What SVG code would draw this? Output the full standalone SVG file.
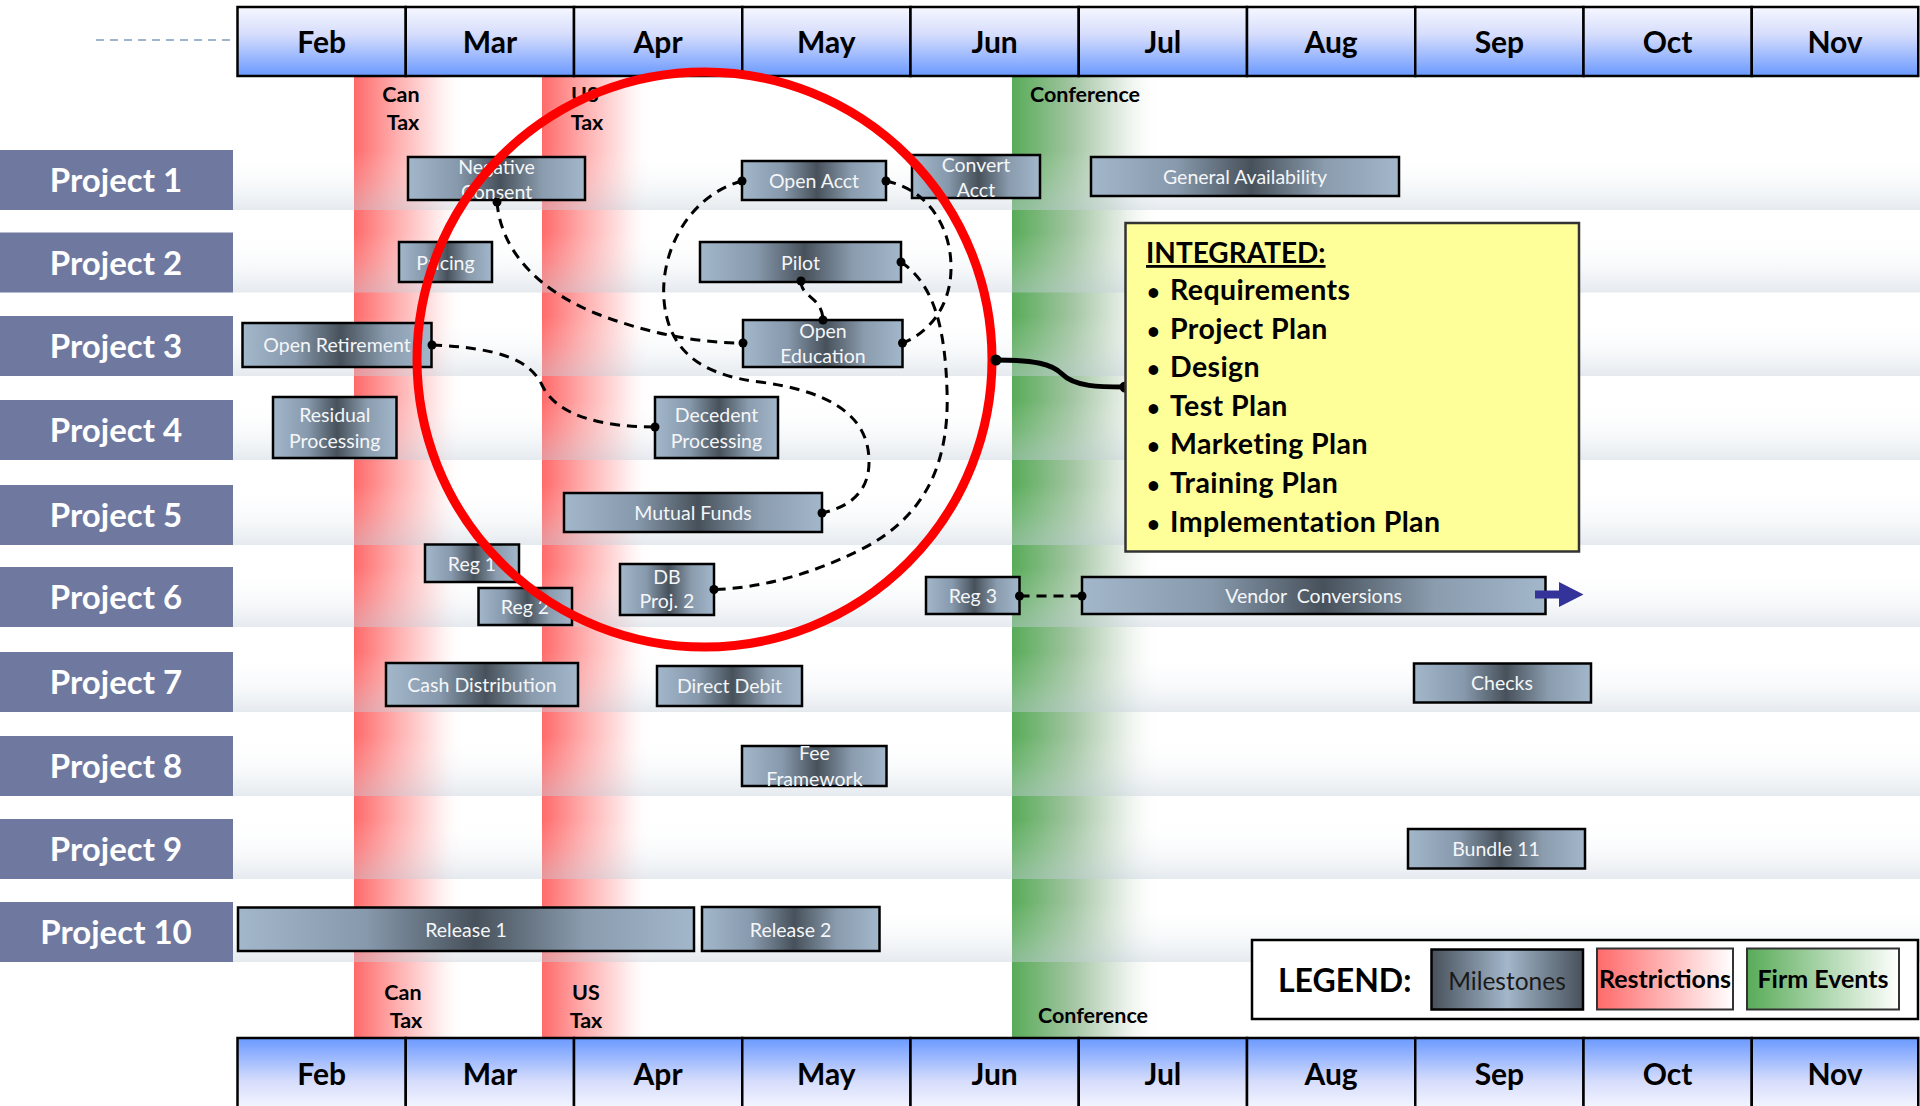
<svg xmlns="http://www.w3.org/2000/svg" width="1920" height="1106" viewBox="0 0 1920 1106">
  <style>
    text { font-family: Lato, "Liberation Sans", sans-serif; }
    .mon { font-size: 30px; font-weight: bold; fill: #000; text-anchor: middle; }
    .cell { stroke: #000; stroke-width: 2.5; }
    .plab { fill: #6f79a0; }
    .ptxt { font-size: 33px; font-weight: bold; fill: #fff; text-anchor: middle; }
    .row { fill: url(#rowG); }
    .ms { fill: url(#msG); stroke: #000; stroke-width: 2.5; }
    .mst { font-size: 19.5px; fill: #f4f6f8; text-anchor: middle; }
    .band { font-size: 21.5px; font-weight: bold; fill: #000; text-anchor: middle; }
    .dash { fill: none; stroke: #000; stroke-width: 3; stroke-dasharray: 10 7; }
    .dot { fill: #000; }
    .bul { font-size: 28.5px; font-weight: bold; fill: #000; letter-spacing: 0.4px; }
    .bdot { font-size: 22px; font-weight: bold; fill: #000; }
  </style>
  <defs>
    <linearGradient id="hdrTop" x1="0" y1="0" x2="0" y2="1">
      <stop offset="0" stop-color="#f6f7ff"/>
      <stop offset="0.4" stop-color="#d6ddfc"/>
      <stop offset="1" stop-color="#6a99ff"/>
    </linearGradient>
    <linearGradient id="hdrBot" x1="0" y1="0" x2="0" y2="1">
      <stop offset="0" stop-color="#6a99ff"/>
      <stop offset="0.6" stop-color="#d6ddfc"/>
      <stop offset="1" stop-color="#f6f7ff"/>
    </linearGradient>
    <linearGradient id="rowG" x1="0" y1="0" x2="0" y2="1">
      <stop offset="0" stop-color="#ffffff" stop-opacity="0"/>
      <stop offset="0.5" stop-color="#dfe6ec" stop-opacity="0.18"/>
      <stop offset="1" stop-color="#c5d0db" stop-opacity="0.45"/>
    </linearGradient>
    <linearGradient id="redG" x1="0" y1="0" x2="1" y2="0">
      <stop offset="0" stop-color="#ff6a6a"/>
      <stop offset="0.35" stop-color="#ffa8a8"/>
      <stop offset="0.75" stop-color="#ffe8e8"/>
      <stop offset="1" stop-color="#ffffff" stop-opacity="0"/>
    </linearGradient>
    <linearGradient id="greenG" x1="0" y1="0" x2="1" y2="0">
      <stop offset="0" stop-color="#58ab58"/>
      <stop offset="0.4" stop-color="#a2c5a2"/>
      <stop offset="0.75" stop-color="#e8efe8"/>
      <stop offset="1" stop-color="#ffffff" stop-opacity="0"/>
    </linearGradient>
    <linearGradient id="msG" x1="0" y1="0" x2="1" y2="0">
      <stop offset="0" stop-color="#a3b7cb"/>
      <stop offset="0.28" stop-color="#8799ac"/>
      <stop offset="0.52" stop-color="#47515b"/>
      <stop offset="0.76" stop-color="#8a9cae"/>
      <stop offset="1" stop-color="#a3b7cb"/>
    </linearGradient>
    <linearGradient id="msLeg" x1="0" y1="0" x2="1" y2="0">
      <stop offset="0" stop-color="#47515b"/>
      <stop offset="0.5" stop-color="#a3b7cb"/>
      <stop offset="1" stop-color="#47515b"/>
    </linearGradient>
    <linearGradient id="redLeg" x1="0" y1="0" x2="1" y2="0">
      <stop offset="0" stop-color="#ff6a6a"/>
      <stop offset="1" stop-color="#ffffff"/>
    </linearGradient>
    <linearGradient id="greenLeg" x1="0" y1="0" x2="1" y2="0">
      <stop offset="0" stop-color="#58ab58"/>
      <stop offset="1" stop-color="#ffffff"/>
    </linearGradient>
  </defs>

  <rect width="1920" height="1106" fill="#fff"/>

  <!-- restriction and event bands -->
  <g id="bands">
    <rect x="354" y="76" width="110" height="962" fill="url(#redG)"/>
    <rect x="542" y="76" width="110" height="962" fill="url(#redG)"/>
    <rect x="1012" y="76" width="150" height="962" fill="url(#greenG)"/>
  </g>

  <!-- row stripes -->
  <g id="rows">
    <rect class="row" x="233" y="150" width="1687" height="60"/>
    <rect class="row" x="233" y="232.5" width="1687" height="60"/>
    <rect class="row" x="233" y="316" width="1687" height="60"/>
    <rect class="row" x="233" y="400" width="1687" height="60"/>
    <rect class="row" x="233" y="485" width="1687" height="60"/>
    <rect class="row" x="233" y="567" width="1687" height="60"/>
    <rect class="row" x="233" y="652" width="1687" height="60"/>
    <rect class="row" x="233" y="736" width="1687" height="60"/>
    <rect class="row" x="233" y="819" width="1687" height="60"/>
    <rect class="row" x="233" y="902" width="1687" height="60"/>
  </g>

  <!-- band labels -->
  <g id="band-labels">
    <text class="band" x="401" y="102">Can</text>
    <text class="band" x="403" y="130">Tax</text>
    <text class="band" x="585" y="102">US</text>
    <text class="band" x="587" y="130">Tax</text>
    <text class="band" x="1085" y="102">Conference</text>
    <text class="band" x="403" y="1000">Can</text>
    <text class="band" x="406" y="1028">Tax</text>
    <text class="band" x="586" y="1000">US</text>
    <text class="band" x="586" y="1028">Tax</text>
    <text class="band" x="1093" y="1023">Conference</text>
  </g>

  <line x1="96" y1="40" x2="236" y2="40" stroke="#9fb5cb" stroke-width="2" stroke-dasharray="8 6"/>

  <!-- month header (top) -->
  <g id="header-top">
    <rect class="cell" x="237.5" y="7" width="168.25" height="69" fill="url(#hdrTop)"/>
    <rect class="cell" x="405.75" y="7" width="168.25" height="69" fill="url(#hdrTop)"/>
    <rect class="cell" x="574" y="7" width="168.25" height="69" fill="url(#hdrTop)"/>
    <rect class="cell" x="742.25" y="7" width="168.25" height="69" fill="url(#hdrTop)"/>
    <rect class="cell" x="910.5" y="7" width="168.25" height="69" fill="url(#hdrTop)"/>
    <rect class="cell" x="1078.75" y="7" width="168.25" height="69" fill="url(#hdrTop)"/>
    <rect class="cell" x="1247" y="7" width="168.25" height="69" fill="url(#hdrTop)"/>
    <rect class="cell" x="1415.25" y="7" width="168.25" height="69" fill="url(#hdrTop)"/>
    <rect class="cell" x="1583.5" y="7" width="168.25" height="69" fill="url(#hdrTop)"/>
    <rect class="cell" x="1751.75" y="7" width="166.5" height="69" fill="url(#hdrTop)"/>
    <text class="mon" x="321.6" y="53">Feb</text>
    <text class="mon" x="489.9" y="53">Mar</text>
    <text class="mon" x="658.1" y="53">Apr</text>
    <text class="mon" x="826.4" y="53">May</text>
    <text class="mon" x="994.6" y="53">Jun</text>
    <text class="mon" x="1162.9" y="53">Jul</text>
    <text class="mon" x="1331.1" y="53">Aug</text>
    <text class="mon" x="1499.4" y="53">Sep</text>
    <text class="mon" x="1667.6" y="53">Oct</text>
    <text class="mon" x="1835" y="53">Nov</text>
  </g>

  <!-- month header (bottom) -->
  <g id="header-bottom">
    <rect class="cell" x="237.5" y="1038" width="168.25" height="72" fill="url(#hdrBot)"/>
    <rect class="cell" x="405.75" y="1038" width="168.25" height="72" fill="url(#hdrBot)"/>
    <rect class="cell" x="574" y="1038" width="168.25" height="72" fill="url(#hdrBot)"/>
    <rect class="cell" x="742.25" y="1038" width="168.25" height="72" fill="url(#hdrBot)"/>
    <rect class="cell" x="910.5" y="1038" width="168.25" height="72" fill="url(#hdrBot)"/>
    <rect class="cell" x="1078.75" y="1038" width="168.25" height="72" fill="url(#hdrBot)"/>
    <rect class="cell" x="1247" y="1038" width="168.25" height="72" fill="url(#hdrBot)"/>
    <rect class="cell" x="1415.25" y="1038" width="168.25" height="72" fill="url(#hdrBot)"/>
    <rect class="cell" x="1583.5" y="1038" width="168.25" height="72" fill="url(#hdrBot)"/>
    <rect class="cell" x="1751.75" y="1038" width="166.5" height="72" fill="url(#hdrBot)"/>
    <text class="mon" x="321.6" y="1085">Feb</text>
    <text class="mon" x="489.9" y="1085">Mar</text>
    <text class="mon" x="658.1" y="1085">Apr</text>
    <text class="mon" x="826.4" y="1085">May</text>
    <text class="mon" x="994.6" y="1085">Jun</text>
    <text class="mon" x="1162.9" y="1085">Jul</text>
    <text class="mon" x="1331.1" y="1085">Aug</text>
    <text class="mon" x="1499.4" y="1085">Sep</text>
    <text class="mon" x="1667.6" y="1085">Oct</text>
    <text class="mon" x="1835" y="1085">Nov</text>
  </g>

  <!-- project labels -->
  <g id="project-labels">
    <g id="p1"><rect class="plab" x="0" y="150" width="233" height="60"/><text class="ptxt" x="116" y="192">Project 1</text></g>
    <g id="p2"><rect class="plab" x="0" y="232.5" width="233" height="60"/><text class="ptxt" x="116" y="274.5">Project 2</text></g>
    <g id="p3"><rect class="plab" x="0" y="316" width="233" height="60"/><text class="ptxt" x="116" y="358">Project 3</text></g>
    <g id="p4"><rect class="plab" x="0" y="400" width="233" height="60"/><text class="ptxt" x="116" y="442">Project 4</text></g>
    <g id="p5"><rect class="plab" x="0" y="485" width="233" height="60"/><text class="ptxt" x="116" y="527">Project 5</text></g>
    <g id="p6"><rect class="plab" x="0" y="567" width="233" height="60"/><text class="ptxt" x="116" y="609">Project 6</text></g>
    <g id="p7"><rect class="plab" x="0" y="652" width="233" height="60"/><text class="ptxt" x="116" y="694">Project 7</text></g>
    <g id="p8"><rect class="plab" x="0" y="736" width="233" height="60"/><text class="ptxt" x="116" y="778">Project 8</text></g>
    <g id="p9"><rect class="plab" x="0" y="819" width="233" height="60"/><text class="ptxt" x="116" y="861">Project 9</text></g>
    <g id="p10"><rect class="plab" x="0" y="902" width="233" height="60"/><text class="ptxt" x="116" y="944">Project 10</text></g>
  </g>

  <!-- milestones -->
  <g id="negative-consent"><rect class="ms" x="408" y="157" width="177" height="43"/><text class="mst" x="496.5" y="173.5">Negative</text><text class="mst" x="496.5" y="198.5">Consent</text></g>
  <g id="open-acct"><rect class="ms" x="742" y="161" width="144" height="39"/><text class="mst" x="814" y="188">Open Acct</text></g>
  <g id="convert-acct"><rect class="ms" x="912" y="155" width="128" height="43"/><text class="mst" x="976" y="171.5">Convert</text><text class="mst" x="976" y="196.5">Acct</text></g>
  <g id="general-availability"><rect class="ms" x="1091" y="157" width="308" height="39"/><text class="mst" x="1245" y="184">General Availability</text></g>
  <g id="pricing"><rect class="ms" x="399" y="242" width="93" height="40"/><text class="mst" x="445.5" y="269.5">Pricing</text></g>
  <g id="pilot"><rect class="ms" x="700" y="242" width="201" height="40"/><text class="mst" x="800.5" y="269.5">Pilot</text></g>
  <g id="open-retirement"><rect class="ms" x="242.5" y="323" width="189" height="44"/><text class="mst" x="337" y="352">Open Retirement</text></g>
  <g id="open-education"><rect class="ms" x="743" y="320" width="159.5" height="47"/><text class="mst" x="823" y="338">Open</text><text class="mst" x="823" y="363">Education</text></g>
  <g id="residual-processing"><rect class="ms" x="273" y="397" width="123.5" height="61"/><text class="mst" x="334.7" y="422">Residual</text><text class="mst" x="334.7" y="448">Processing</text></g>
  <g id="decedent-processing"><rect class="ms" x="655" y="397" width="123" height="61"/><text class="mst" x="716.5" y="421.5">Decedent</text><text class="mst" x="716.5" y="448">Processing</text></g>
  <g id="mutual-funds"><rect class="ms" x="564" y="493" width="258" height="39"/><text class="mst" x="693" y="520">Mutual Funds</text></g>
  <g id="reg-1"><rect class="ms" x="425" y="544.5" width="94" height="37.5"/><text class="mst" x="472" y="571">Reg 1</text></g>
  <g id="reg-2"><rect class="ms" x="478.5" y="588" width="93.5" height="37"/><text class="mst" x="525" y="614">Reg 2</text></g>
  <g id="db-proj-2"><rect class="ms" x="620" y="564" width="94" height="51"/><text class="mst" x="667" y="584">DB</text><text class="mst" x="667" y="608">Proj. 2</text></g>
  <g id="reg-3"><rect class="ms" x="926" y="577" width="93.5" height="37"/><text class="mst" x="972.8" y="603">Reg 3</text></g>
  <g id="vendor-conversions"><rect class="ms" x="1082" y="577" width="463.5" height="37"/><text class="mst" x="1313.6" y="603" xml:space="preserve">Vendor  Conversions</text>
    <path d="M1535,590.5 H1559 V582 L1583.5,594.5 L1559,607 V598.5 H1535 Z" fill="#333399"/></g>
  <g id="cash-distribution"><rect class="ms" x="386" y="663" width="192" height="43"/><text class="mst" x="482" y="692">Cash Distribution</text></g>
  <g id="direct-debit"><rect class="ms" x="657" y="666" width="145" height="40"/><text class="mst" x="729.5" y="693">Direct Debit</text></g>
  <g id="checks"><rect class="ms" x="1414" y="663.5" width="177" height="39"/><text class="mst" x="1502" y="690">Checks</text></g>
  <g id="fee-framework"><rect class="ms" x="742" y="746" width="144.5" height="40"/><text class="mst" x="814.4" y="760">Fee</text><text class="mst" x="814.4" y="786">Framework</text></g>
  <g id="bundle-11"><rect class="ms" x="1408" y="829" width="177" height="39.5"/><text class="mst" x="1496" y="856">Bundle 11</text></g>
  <g id="release-1"><rect class="ms" x="238" y="907.5" width="456" height="43.5"/><text class="mst" x="466" y="937">Release 1</text></g>
  <g id="release-2"><rect class="ms" x="702" y="907" width="177.5" height="44"/><text class="mst" x="790.6" y="937">Release 2</text></g>

  <!-- dependency connectors -->
  <g id="connectors">
    <path class="dash" d="M497,202 C501,252 540,292 600,315 C650,334 700,343 743,343"/>
    <path class="dash" d="M432,345 C500,348 530,360 542,385 C556,415 600,427 655,427"/>
    <path class="dash" d="M742,181 C690,195 660,250 664,300 C668,350 700,375 760,382 C820,390 868,410 869,460 C870,495 845,508 822,513"/>
    <path class="dash" d="M886,181 C930,190 952,230 951,270 C950,310 925,335 902.5,343"/>
    <path class="dash" d="M901,262 C935,285 945,330 947,390 C950,470 920,520 860,550 C810,575 760,588 714,589.5"/>
    <path class="dash" d="M801,281 C801,298 822,296 823,320"/>
    <path class="dash" d="M1019.5,596 H1082"/>
    <circle class="dot" cx="497" cy="202" r="4.5"/>
    <circle class="dot" cx="743" cy="343" r="4.5"/>
    <circle class="dot" cx="432" cy="345" r="4.5"/>
    <circle class="dot" cx="655" cy="427" r="4.5"/>
    <circle class="dot" cx="742" cy="181" r="4.5"/>
    <circle class="dot" cx="822" cy="513" r="4.5"/>
    <circle class="dot" cx="886" cy="181" r="4.5"/>
    <circle class="dot" cx="902.5" cy="343" r="4.5"/>
    <circle class="dot" cx="901" cy="262" r="4.5"/>
    <circle class="dot" cx="714" cy="589.5" r="4.5"/>
    <circle class="dot" cx="801" cy="281" r="4.5"/>
    <circle class="dot" cx="823" cy="320" r="4.5"/>
    <circle class="dot" cx="1019.5" cy="596" r="4.5"/>
    <circle class="dot" cx="1082" cy="596" r="4.5"/>
  </g>

  <!-- integration ring -->
  <circle id="ring" cx="704.5" cy="359.5" r="287.5" fill="none" stroke="#ff0000" stroke-width="9"/>

  <!-- callout -->
  <g id="callout-link">
    <path d="M996,360 C1035,360 1052,364 1062,374 C1075,387 1100,387 1125,387" fill="none" stroke="#000" stroke-width="5"/>
    <circle class="dot" cx="996" cy="360" r="5.5"/>
    <circle class="dot" cx="1125" cy="387" r="5.5"/>
  </g>
  <g id="integrated">
    <rect x="1125.5" y="223" width="453.5" height="328.5" fill="#ffff99" stroke="#333" stroke-width="2.5"/>
    <text x="1146" y="263" font-size="28" font-weight="bold" text-decoration="underline" fill="#000">INTEGRATED:</text>
    <text y="300"><tspan class="bdot" x="1147">•</tspan><tspan class="bul" x="1170">Requirements</tspan></text>
    <text y="338.6"><tspan class="bdot" x="1147">•</tspan><tspan class="bul" x="1170">Project Plan</tspan></text>
    <text y="377.2"><tspan class="bdot" x="1147">•</tspan><tspan class="bul" x="1170">Design</tspan></text>
    <text y="415.8"><tspan class="bdot" x="1147">•</tspan><tspan class="bul" x="1170">Test Plan</tspan></text>
    <text y="454.4"><tspan class="bdot" x="1147">•</tspan><tspan class="bul" x="1170">Marketing Plan</tspan></text>
    <text y="493"><tspan class="bdot" x="1147">•</tspan><tspan class="bul" x="1170">Training Plan</tspan></text>
    <text y="531.6"><tspan class="bdot" x="1147">•</tspan><tspan class="bul" x="1170">Implementation Plan</tspan></text>
  </g>

  <!-- legend -->
  <g id="legend">
    <rect x="1252" y="940" width="666" height="79" fill="#fff" stroke="#000" stroke-width="2.5"/>
    <text x="1278" y="992" font-size="32" font-weight="bold" fill="#000">LEGEND:</text>
    <rect x="1431.5" y="949.5" width="151.5" height="60" fill="url(#msLeg)" stroke="#000" stroke-width="2.5"/>
    <text x="1507" y="990" font-size="24.5" fill="#1a1a1a" text-anchor="middle">Milestones</text>
    <rect x="1597" y="948.5" width="136" height="61" fill="url(#redLeg)" stroke="#333" stroke-width="2"/>
    <text x="1665" y="988" font-size="25" font-weight="bold" fill="#000" text-anchor="middle">Restrictions</text>
    <rect x="1747" y="948.5" width="152" height="61" fill="url(#greenLeg)" stroke="#333" stroke-width="2"/>
    <text x="1823" y="988" font-size="25" font-weight="bold" fill="#000" text-anchor="middle">Firm Events</text>
  </g>
</svg>
